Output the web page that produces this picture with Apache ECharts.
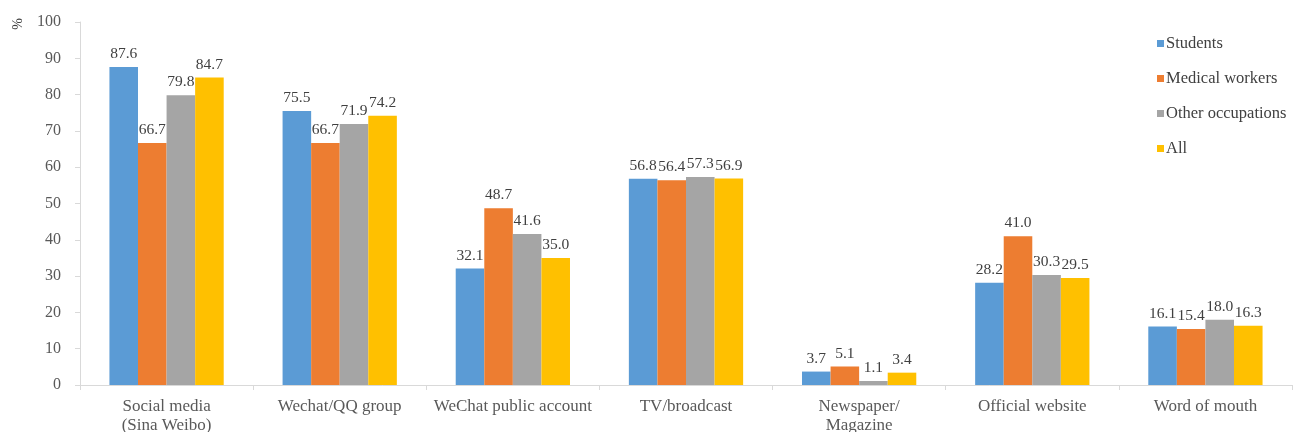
<!DOCTYPE html>
<html><head><meta charset="utf-8">
<script src="https://cdn.jsdelivr.net/npm/echarts@6/dist/echarts.min.js"></script>
<style>html,body{margin:0;padding:0;background:#fff}#c{width:1294px;height:432px}</style>
</head><body><div id="c"></div>
<script>
const categories = ["Social media\n(Sina Weibo)", "Wechat/QQ group", "WeChat public account", "TV/broadcast", "Newspaper/\nMagazine", "Official website", "Word of mouth"];
const students = [87.6, 75.5, 32.1, 56.8, 3.7, 28.2, 16.1];
const medical = [66.7, 66.7, 48.7, 56.4, 5.1, 41.0, 15.4];
const other = [79.8, 71.9, 41.6, 57.3, 1.1, 30.3, 18.0];
const all = [84.7, 74.2, 35.0, 56.9, 3.4, 29.5, 16.3];
const seriesNames = ["Students", "Medical workers", "Other occupations", "All"];
const colors = ["#5B9BD5", "#ED7D31", "#A5A5A5", "#FFC000"];
const font = "'Liberation Serif', 'DejaVu Serif', serif";
const chart = echarts.init(document.getElementById('c'));
const mk = (name, data, i) => ({
  name, type: 'bar', data, barGap: '0%', barCategoryGap: '34%',
  itemStyle: { color: colors[i] },
  label: { show: true, position: 'top', distance: 5, fontFamily: font, fontSize: 15.5, color: '#404040',
    formatter: p => p.value.toFixed(1) }
});
chart.setOption({
  animation: false,
  textStyle: { fontFamily: font },
  grid: { left: 80, right: 2, top: 22, bottom: 47, containLabel: false, outerBoundsMode: 'none' },
  legend: {
    orient: 'vertical', left: 1152, top: 30, itemGap: 18, itemWidth: 7, itemHeight: 7,
    icon: 'rect',
    textStyle: { fontFamily: font, fontSize: 16.5, color: '#404040', padding: [0, 0, 0, -3] },
    data: seriesNames
  },
  graphic: [{
    type: 'text', x: 18, y: 24, rotation: Math.PI / 2,
    style: { text: '%', font: "14px 'Liberation Serif', serif", fill: '#404040', textAlign: 'center', textVerticalAlign: 'middle' }
  }],
  xAxis: {
    type: 'category', data: categories,
    axisLine: { lineStyle: { color: '#D9D9D9' } },
    axisTick: { show: true, length: 5, alignWithLabel: false, lineStyle: { color: '#D9D9D9' } },
    axisLabel: { interval: 0, fontFamily: font, fontSize: 17, color: '#595959', margin: 12, lineHeight: 19 }
  },
  yAxis: {
    type: 'value', min: 0, max: 100, interval: 10,
    axisLine: { show: true, lineStyle: { color: '#D9D9D9' } },
    axisTick: { show: true, length: 5, lineStyle: { color: '#D9D9D9' } },
    splitLine: { show: false },
    axisLabel: { fontFamily: font, fontSize: 16, color: '#595959', margin: 19 }
  },
  series: [mk(seriesNames[0], students, 0), mk(seriesNames[1], medical, 1), mk(seriesNames[2], other, 2), mk(seriesNames[3], all, 3)]
});
</script></body></html>
